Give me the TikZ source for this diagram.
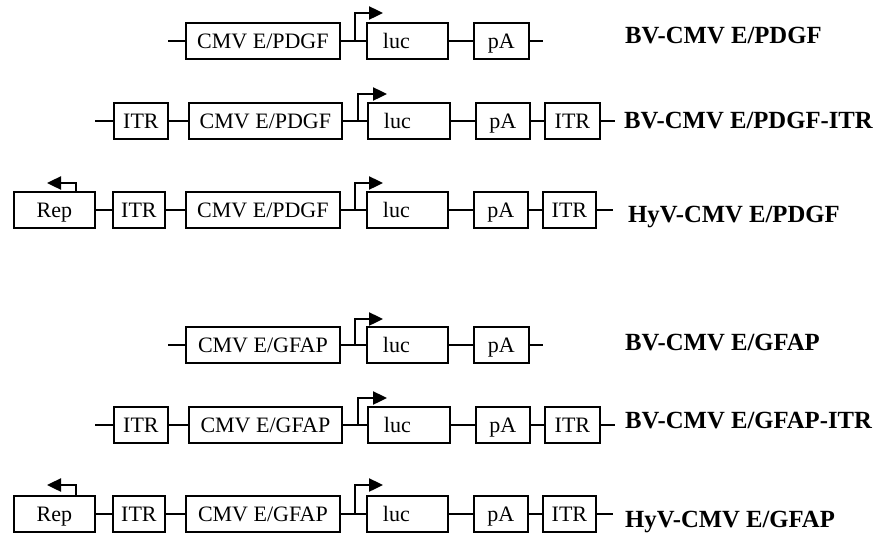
\documentclass[tikz,border=0pt]{standalone}
\usepackage{fontspec}
\setmainfont{Liberation Serif}
\usetikzlibrary{arrows.meta}
\tikzset{
  box/.style={draw, line width=1.8pt, minimum height=36pt, inner sep=0pt, anchor=west,
    font=\fontsize{22}{22}\selectfont, text height=14.5pt, text depth=0pt},
  lucbox/.style={box, text width=#1, inner xsep=16pt, align=left},
  wire/.style={line width=1.8pt},
  prom/.style={line width=2.4pt, -{Triangle[length=14pt,width=13pt]}},
  lab/.style={anchor=base west, inner sep=0pt, font=\fontsize{24.7}{24.7}\selectfont\bfseries}
}
\begin{document}
\begin{tikzpicture}[x=1pt,y=-1pt]
\useasboundingbox[fill=white] (0,0) rectangle (878,533);

% ---------- Row 1 ----------
\coordinate (a1) at (168,41);
\node[box, minimum width=154pt] (c1) at (185,41) {CMV E/PDGF};
\node[lucbox=49pt, minimum width=81pt] (l1) at (366,41) {luc};
\node[box, minimum width=55pt] (p1) at (473,41) {pA};
\coordinate (z1) at (543,41);
\coordinate (q1) at (355,41);
\coordinate (t1) at (383,13);
\draw[wire] (a1) -- (c1.west) (c1.east) -- (l1.west) (l1.east) -- (p1.west) (p1.east) -- (z1);
\draw[prom] (q1) |- (t1);
\node[lab] (n1) at (625,43) {BV-CMV E/PDGF};

% ---------- Row 2 ----------
\coordinate (a2) at (95,121);
\node[box, minimum width=54pt] (i2) at (113,121) {ITR};
\node[box, minimum width=153pt] (c2) at (188,121) {CMV E/PDGF};
\node[lucbox=50pt, minimum width=82pt] (l2) at (367,121) {luc};
\node[box, minimum width=54pt] (p2) at (475,121) {pA};
\node[box, minimum width=55pt] (j2) at (544,121) {ITR};
\coordinate (z2) at (615,121);
\coordinate (q2) at (358,121);
\coordinate (t2) at (387,94);
\draw[wire] (a2) -- (i2.west) (i2.east) -- (c2.west) (c2.east) -- (l2.west)
  (l2.east) -- (p2.west) (p2.east) -- (j2.west) (j2.east) -- (z2);
\draw[prom] (q2) |- (t2);
\node[lab] (n2) at (624,128) {BV-CMV E/PDGF-ITR};

% ---------- Row 3 ----------
\node[box, minimum width=81pt] (r3) at (13,210) {Rep};
\node[box, minimum width=52pt] (i3) at (112,210) {ITR};
\node[box, minimum width=154pt] (c3) at (185,210) {CMV E/PDGF};
\node[lucbox=49pt, minimum width=81pt] (l3) at (366,210) {luc};
\node[box, minimum width=54pt] (p3) at (473,210) {pA};
\node[box, minimum width=53pt] (j3) at (542,210) {ITR};
\coordinate (z3) at (613,210);
\coordinate (q3) at (355,210);
\coordinate (t3) at (383,183);
\coordinate (rq3) at (76,192);
\coordinate (rt3) at (47,183);
\draw[wire] (r3.east) -- (i3.west) (i3.east) -- (c3.west) (c3.east) -- (l3.west)
  (l3.east) -- (p3.west) (p3.east) -- (j3.west) (j3.east) -- (z3);
\draw[prom] (q3) |- (t3);
\draw[prom] (rq3) |- (rt3);
\node[lab] (n3) at (628,222) {HyV-CMV E/PDGF};

% ---------- Row 4 ----------
\coordinate (a4) at (168,345);
\node[box, minimum width=154pt] (c4) at (185,345) {CMV E/GFAP};
\node[lucbox=49pt, minimum width=81pt] (l4) at (366,345) {luc};
\node[box, minimum width=55pt] (p4) at (473,345) {pA};
\coordinate (z4) at (543,345);
\coordinate (q4) at (355,345);
\coordinate (t4) at (383,319);
\draw[wire] (a4) -- (c4.west) (c4.east) -- (l4.west) (l4.east) -- (p4.west) (p4.east) -- (z4);
\draw[prom] (q4) |- (t4);
\node[lab] (n4) at (625,350) {BV-CMV E/GFAP};

% ---------- Row 5 ----------
\coordinate (a5) at (95,425);
\node[box, minimum width=54pt] (i5) at (113,425) {ITR};
\node[box, minimum width=153pt] (c5) at (188,425) {CMV E/GFAP};
\node[lucbox=50pt, minimum width=82pt] (l5) at (367,425) {luc};
\node[box, minimum width=54pt] (p5) at (475,425) {pA};
\node[box, minimum width=55pt] (j5) at (544,425) {ITR};
\coordinate (z5) at (615,425);
\coordinate (q5) at (358,425);
\coordinate (t5) at (387,398);
\draw[wire] (a5) -- (i5.west) (i5.east) -- (c5.west) (c5.east) -- (l5.west)
  (l5.east) -- (p5.west) (p5.east) -- (j5.west) (j5.east) -- (z5);
\draw[prom] (q5) |- (t5);
\node[lab] (n5) at (625,428) {BV-CMV E/GFAP-ITR};

% ---------- Row 6 ----------
\node[box, minimum width=81pt] (r6) at (13,514) {Rep};
\node[box, minimum width=52pt] (i6) at (112,514) {ITR};
\node[box, minimum width=154pt] (c6) at (185,514) {CMV E/GFAP};
\node[lucbox=49pt, minimum width=81pt] (l6) at (366,514) {luc};
\node[box, minimum width=54pt] (p6) at (473,514) {pA};
\node[box, minimum width=53pt] (j6) at (542,514) {ITR};
\coordinate (z6) at (613,514);
\coordinate (q6) at (355,514);
\coordinate (t6) at (383,485);
\coordinate (rq6) at (76,496);
\coordinate (rt6) at (47,485);
\draw[wire] (r6.east) -- (i6.west) (i6.east) -- (c6.west) (c6.east) -- (l6.west)
  (l6.east) -- (p6.west) (p6.east) -- (j6.west) (j6.east) -- (z6);
\draw[prom] (q6) |- (t6);
\draw[prom] (rq6) |- (rt6);
\node[lab] (n6) at (625,527) {HyV-CMV E/GFAP};
\end{tikzpicture}
\end{document}
